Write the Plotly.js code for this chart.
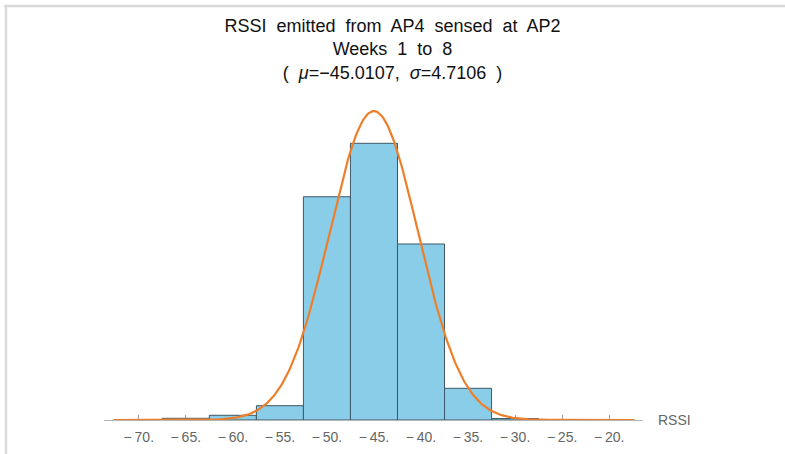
<!DOCTYPE html>
<html>
<head>
<meta charset="utf-8">
<script src="https://cdn.plot.ly/plotly-3.0.1.min.js"></script>
<style>
html,body{margin:0;padding:0;background:#fff;}
#chart{width:785px;height:454px;}
#chart .gtitle{word-spacing:5px;}
</style>
</head>
<body>
<div id="chart"></div>
<script>
// Histogram bins (centres, RSSI) and probability-density heights
const binCenters = [-65, -60, -55, -50, -45, -40, -35, -30];
const binDensity = [0.00047, 0.00129, 0.00392, 0.0612, 0.07585, 0.04825, 0.00869, 0.0004];
const binWidth = 5;
// Fitted normal distribution (from title)
const mu = -45.0107;
const sigma = 4.7106;
const curveStart = -72.7, curveEnd = -17.3;
// Tick labels
const tickValues = [-70, -65, -60, -55, -50, -45, -40, -35, -30, -25, -20];
const tickLabels = ["\u2212\u200970.", "\u2212\u200965.", "\u2212\u200960.", "\u2212\u200955.", "\u2212\u200950.", "\u2212\u200945.", "\u2212\u200940.", "\u2212\u200935.", "\u2212\u200930.", "\u2212\u200925.", "\u2212\u200920."];

const cx = [], cy = [];
const n = 400;
for (let i = 0; i <= n; i++) {
  const x = curveStart + (curveEnd - curveStart) * i / n;
  cx.push(x);
  cy.push(Math.exp(-0.5 * Math.pow((x - mu) / sigma, 2)) / (sigma * Math.sqrt(2 * Math.PI)));
}

const W = 785, H = 454;
const L = 104, R = 643, T = 105, B = 420;
const pw = R - L, ph = B - T;
const px = v => (v - L) / pw;
const py = v => (B - v) / ph;

const traces = [
  {
    type: 'bar', x: binCenters, y: binDensity, width: binWidth,
    marker: {color: 'rgb(138,205,232)', line: {color: 'rgb(62,88,102)', width: 1}},
    hoverinfo: 'skip'
  },
  {
    type: 'scatter', mode: 'lines', x: cx, y: cy,
    line: {color: 'rgb(238,127,42)', width: 2.2}, hoverinfo: 'skip'
  }
];

const layout = {
  width: W, height: H,
  margin: {l: L, r: W - R, t: T, b: H - B, pad: 0},
  paper_bgcolor: '#fff', plot_bgcolor: '#fff',
  showlegend: false,
  bargap: 0,
  title: {
    text: 'RSSI emitted from AP4 sensed at AP2<br>Weeks 1 to 8<br>( <i>\u03bc</i>=\u221245.0107, <i>\u03c3</i>=4.7106 )',
    font: {family: 'Liberation Sans, Arial, sans-serif', size: 18, color: '#111'},
    x: 0.5, xref: 'container', xanchor: 'center',
    y: 1 - 32 / H, yref: 'container', yanchor: 'top'
  },
  xaxis: {
    range: [-73.7, -16.4],
    showgrid: false, zeroline: false,
    showline: true, linecolor: '#b4b4b4', linewidth: 1.3,
    ticks: 'inside', ticklen: 5, tickcolor: '#999', tickwidth: 1,
    tickvals: tickValues, ticktext: tickLabels,
    ticklabelstandoff: 4,
    tickfont: {family: 'Liberation Sans, Arial, sans-serif', size: 14, color: '#666'},
    layer: 'below traces',
    fixedrange: true
  },
  yaxis: {
    range: [0, 0.08635], visible: false, fixedrange: true
  },
  annotations: [{
    text: 'RSSI', xref: 'paper', yref: 'paper', x: px(656), y: py(420),
    xanchor: 'left', yanchor: 'middle', showarrow: false,
    font: {family: 'Liberation Sans, Arial, sans-serif', size: 14, color: '#666'}
  }],
  shapes: [
    {type: 'line', xref: 'paper', yref: 'paper', x0: px(4), x1: px(W + 5), y0: py(6), y1: py(6),
     line: {color: '#d9d9d9', width: 2.5}},
    {type: 'line', xref: 'paper', yref: 'paper', x0: px(6), x1: px(6), y0: py(5), y1: py(H + 5),
     line: {color: '#d9d9d9', width: 2.5}}
  ]
};

Plotly.newPlot('chart', traces, layout, {displayModeBar: false, staticPlot: true});
</script>
</body>
</html>
